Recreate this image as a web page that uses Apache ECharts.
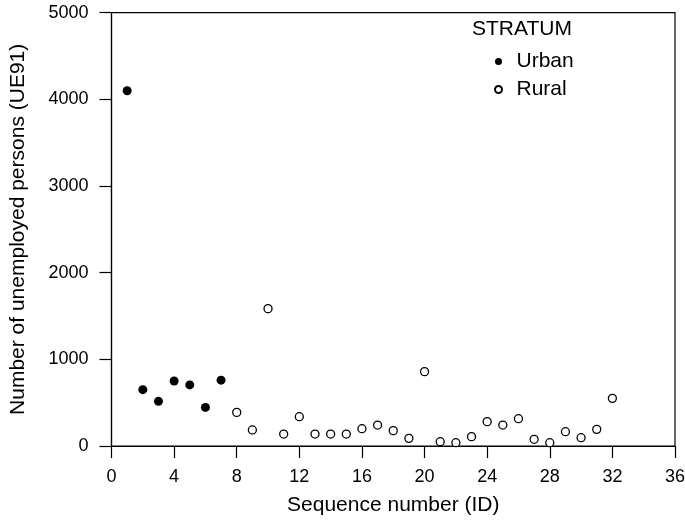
<!DOCTYPE html>
<html>
<head>
<meta charset="utf-8">
<script src="https://cdn.jsdelivr.net/npm/echarts@6/dist/echarts.min.js"></script>
<style>
  html, body { margin: 0; padding: 0; background: #fff; }
  #chart { width: 685px; height: 521px; }
</style>
</head>
<body>
<div id="chart"></div>
<script>
// values
const urbanIds = [1, 2, 3, 4, 5, 6, 7];
const urbanUE91 = [4100, 650, 515, 750, 705, 445, 760];

const ruralIds = [8, 9, 10, 11, 12, 13, 14, 15, 16, 17, 18, 19, 20,
  21, 22, 23, 24, 25, 26, 27, 28, 29, 30, 31, 32];
const ruralUE91 = [388, 185, 1585, 138, 338, 138, 138, 138, 200, 242, 177, 88, 858,
  50, 38, 108, 281, 242, 315, 77, 38, 165, 96, 192, 550];

const xTicks = [0, 4, 8, 12, 16, 20, 24, 28, 32, 36];
const yTicks = [0, 1000, 2000, 3000, 4000, 5000];

const font = 'Liberation Sans, Arial, Helvetica, sans-serif';

const pairs = (xs, ys) => xs.map((x, i) => [x, ys[i]]);

const chart = echarts.init(document.getElementById('chart'));

chart.setOption({
  animation: false,
  textStyle: { fontFamily: font, color: '#000' },
  title: {
    text: 'STRATUM',
    left: 472,
    top: 19,
    padding: 0,
    textStyle: { fontFamily: font, fontSize: 21, fontWeight: 'normal', color: '#000' }
  },
  legend: {
    orient: 'vertical',
    left: 494,
    top: 51,
    padding: 0,
    itemWidth: 26,
    itemHeight: 7,
    itemGap: 7,
    selectedMode: false,
    textStyle: { fontFamily: font, fontSize: 21, color: '#000' },
    data: ['Urban', 'Rural']
  },
  grid: {
    left: 111.5,
    right: 10,
    top: 12.7,
    bottom: 75,
    containLabel: false,
    outerBoundsMode: 'none',
    show: true,
    borderColor: '#000',
    borderWidth: 1.2,
    backgroundColor: 'transparent'
  },
  xAxis: {
    type: 'value',
    min: xTicks[0],
    max: xTicks[xTicks.length - 1],
    interval: 4,
    name: 'Sequence number (ID)',
    nameLocation: 'middle',
    nameGap: 49,
    nameTextStyle: { fontFamily: font, fontSize: 21, color: '#000' },
    axisLine: { show: true, onZero: false, lineStyle: { color: '#000', width: 1.2 } },
    axisTick: { show: true, length: 12, lineStyle: { color: '#000', width: 1.2 } },
    axisLabel: { fontFamily: font, fontSize: 18, color: '#000', margin: 22 },
    splitLine: { show: false }
  },
  yAxis: {
    type: 'value',
    min: yTicks[0],
    max: yTicks[yTicks.length - 1],
    interval: 1000,
    name: 'Number of unemployed persons (UE91)',
    nameLocation: 'middle',
    nameGap: 83,
    nameTextStyle: { fontFamily: font, fontSize: 21, color: '#000' },
    axisLine: { show: true, onZero: false, lineStyle: { color: '#000', width: 1.2 } },
    axisTick: { show: true, length: 12, lineStyle: { color: '#000', width: 1.2 } },
    axisLabel: {
      fontFamily: font, fontSize: 18, color: '#000', margin: 23,
      formatter: v => String(v)
    },
    splitLine: { show: false }
  },
  series: [
    {
      name: 'Urban',
      type: 'scatter',
      symbol: 'circle',
      symbolSize: 9,
      itemStyle: { color: '#000', borderColor: '#000', borderWidth: 0, opacity: 1 },
      data: pairs(urbanIds, urbanUE91)
    },
    {
      name: 'Rural',
      type: 'scatter',
      symbol: 'circle',
      symbolSize: 8,
      itemStyle: { color: '#fff', borderColor: '#000', borderWidth: 1.3, opacity: 1 },
      data: pairs(ruralIds, ruralUE91)
    }
  ]
});
</script>
</body>
</html>
